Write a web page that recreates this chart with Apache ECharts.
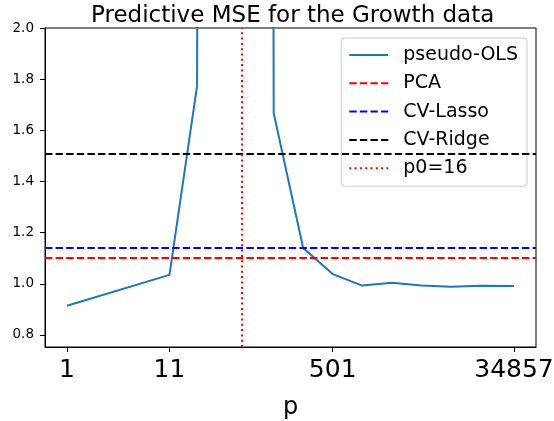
<!DOCTYPE html>
<html>
<head>
<meta charset="utf-8">
<script src="https://cdn.jsdelivr.net/npm/echarts@6/dist/echarts.min.js"></script>
<style>html,body{margin:0;padding:0;background:#fff;}#c{width:554px;height:421px;}</style>
</head>
<body>
<div id="c"></div>
<script>
// ---- data ----
var pValues = [1, 11, 21, 31, 63, 126, 251, 501, 1001, 2001, 4001, 8001, 16001, 34857];
var pseudoOLS = [0.914, 1.035, 1.775, 40, 60, 1.668, 1.140, 1.038, 0.993, 1.004, 0.993, 0.989, 0.992, 0.991];
var pcaMSE = 1.097;
var lassoMSE = 1.137;
var ridgeMSE = 1.511;
var p0Position = 60;          // where the p0 marker sits on the p axis
var p0Label = 'p0=16';
var xTickLabels = [1, 11, 501, 34857];
var yTickLabels = [0.8, 1.0, 1.2, 1.4, 1.6, 1.8, 2.0];

var FONT = 'DejaVu Sans';
var chart = echarts.init(document.getElementById('c'), null, {renderer: 'canvas'});

function hLine(name, value, color) {
  return {
    name: name, type: 'line', data: [], symbol: 'none',
    lineStyle: {color: color, width: 2, type: [7.4, 3.2]},
    itemStyle: {color: color},
    markLine: {
      silent: true, symbol: 'none', label: {show: false},
      lineStyle: {color: color, width: 2, type: [7.4, 3.2]},
      emphasis: {disabled: true},
      data: [{yAxis: value}]
    }
  };
}

var option = {
  animation: false,
  backgroundColor: '#fff',
  title: {
    text: 'Predictive MSE for the Growth data',
    left: 86, top: 0,
    textStyle: {fontFamily: FONT, fontSize: 23, fontWeight: 'normal', color: '#000'}
  },
  legend: {
    orient: 'vertical', right: 27, top: 38,
    itemWidth: 39, itemHeight: 14, itemGap: 8.3,
    padding: [7, 9, 8, 7],
    borderColor: '#cccccc', borderWidth: 1, borderRadius: 3,
    backgroundColor: 'rgba(255,255,255,0.8)',
    itemStyle: {color: 'rgba(0,0,0,0)', borderColor: 'rgba(0,0,0,0)', borderWidth: 0},
    textStyle: {fontFamily: FONT, fontSize: 19, color: '#000', lineHeight: 20, padding: [0, 0, 0, 10]},
    selectedMode: false,
    data: ['pseudo-OLS', 'PCA', 'CV-Lasso', 'CV-Ridge', p0Label]
  },
  grid: {left: 45, right: 18, top: 28, bottom: 74, show: true, borderColor: '#000', borderWidth: 1,
    containLabel: false, outerBoundsMode: 'none'},
  xAxis: {
    type: 'log', logBase: 10, min: 0.598, max: 58300,
    name: 'p', nameLocation: 'middle', nameGap: 49,
    nameTextStyle: {fontFamily: FONT, fontSize: 24, color: '#000'},
    axisLine: {show: true, lineStyle: {color: '#000', width: 1}},
    axisTick: {show: true, length: 5, lineStyle: {color: '#000'}, customValues: xTickLabels},
    axisLabel: {fontFamily: FONT, fontSize: 25, color: '#000', margin: 11, customValues: xTickLabels,
      hideOverlap: false,
      formatter: function (v) { return String(Math.round(v)); }},
    splitLine: {show: false}, minorTick: {show: false}
  },
  yAxis: {
    type: 'value', min: 0.753, max: 2.0,
    axisLine: {show: true, lineStyle: {color: '#000', width: 1}},
    axisTick: {show: true, length: 5, lineStyle: {color: '#000'}, customValues: yTickLabels},
    axisLabel: {fontFamily: FONT, fontSize: 13.5, color: '#000', margin: 11, customValues: yTickLabels,
      formatter: function (v) { return v.toFixed(1); }},
    splitLine: {show: false}
  },
  series: [
    {
      name: 'pseudo-OLS', type: 'line', symbol: 'none', clip: true,
      data: pValues.map(function (p, i) { return [p, pseudoOLS[i]]; }),
      lineStyle: {color: '#1f77b4', width: 2},
      itemStyle: {color: '#1f77b4'}
    },
    hLine('PCA', pcaMSE, '#ff0000'),
    hLine('CV-Lasso', lassoMSE, '#0000ff'),
    hLine('CV-Ridge', ridgeMSE, '#000000'),
    {
      name: p0Label, type: 'line', data: [], symbol: 'none',
      lineStyle: {color: '#ff0000', width: 2, type: [2, 3.3]},
      itemStyle: {color: '#ff0000'},
      markLine: {
        silent: true, symbol: 'none', label: {show: false},
        lineStyle: {color: '#ff0000', width: 2, type: [2, 3.3]},
        emphasis: {disabled: true},
        data: [{xAxis: p0Position}]
      }
    }
  ]
};
chart.setOption(option);
</script>
</body>
</html>
